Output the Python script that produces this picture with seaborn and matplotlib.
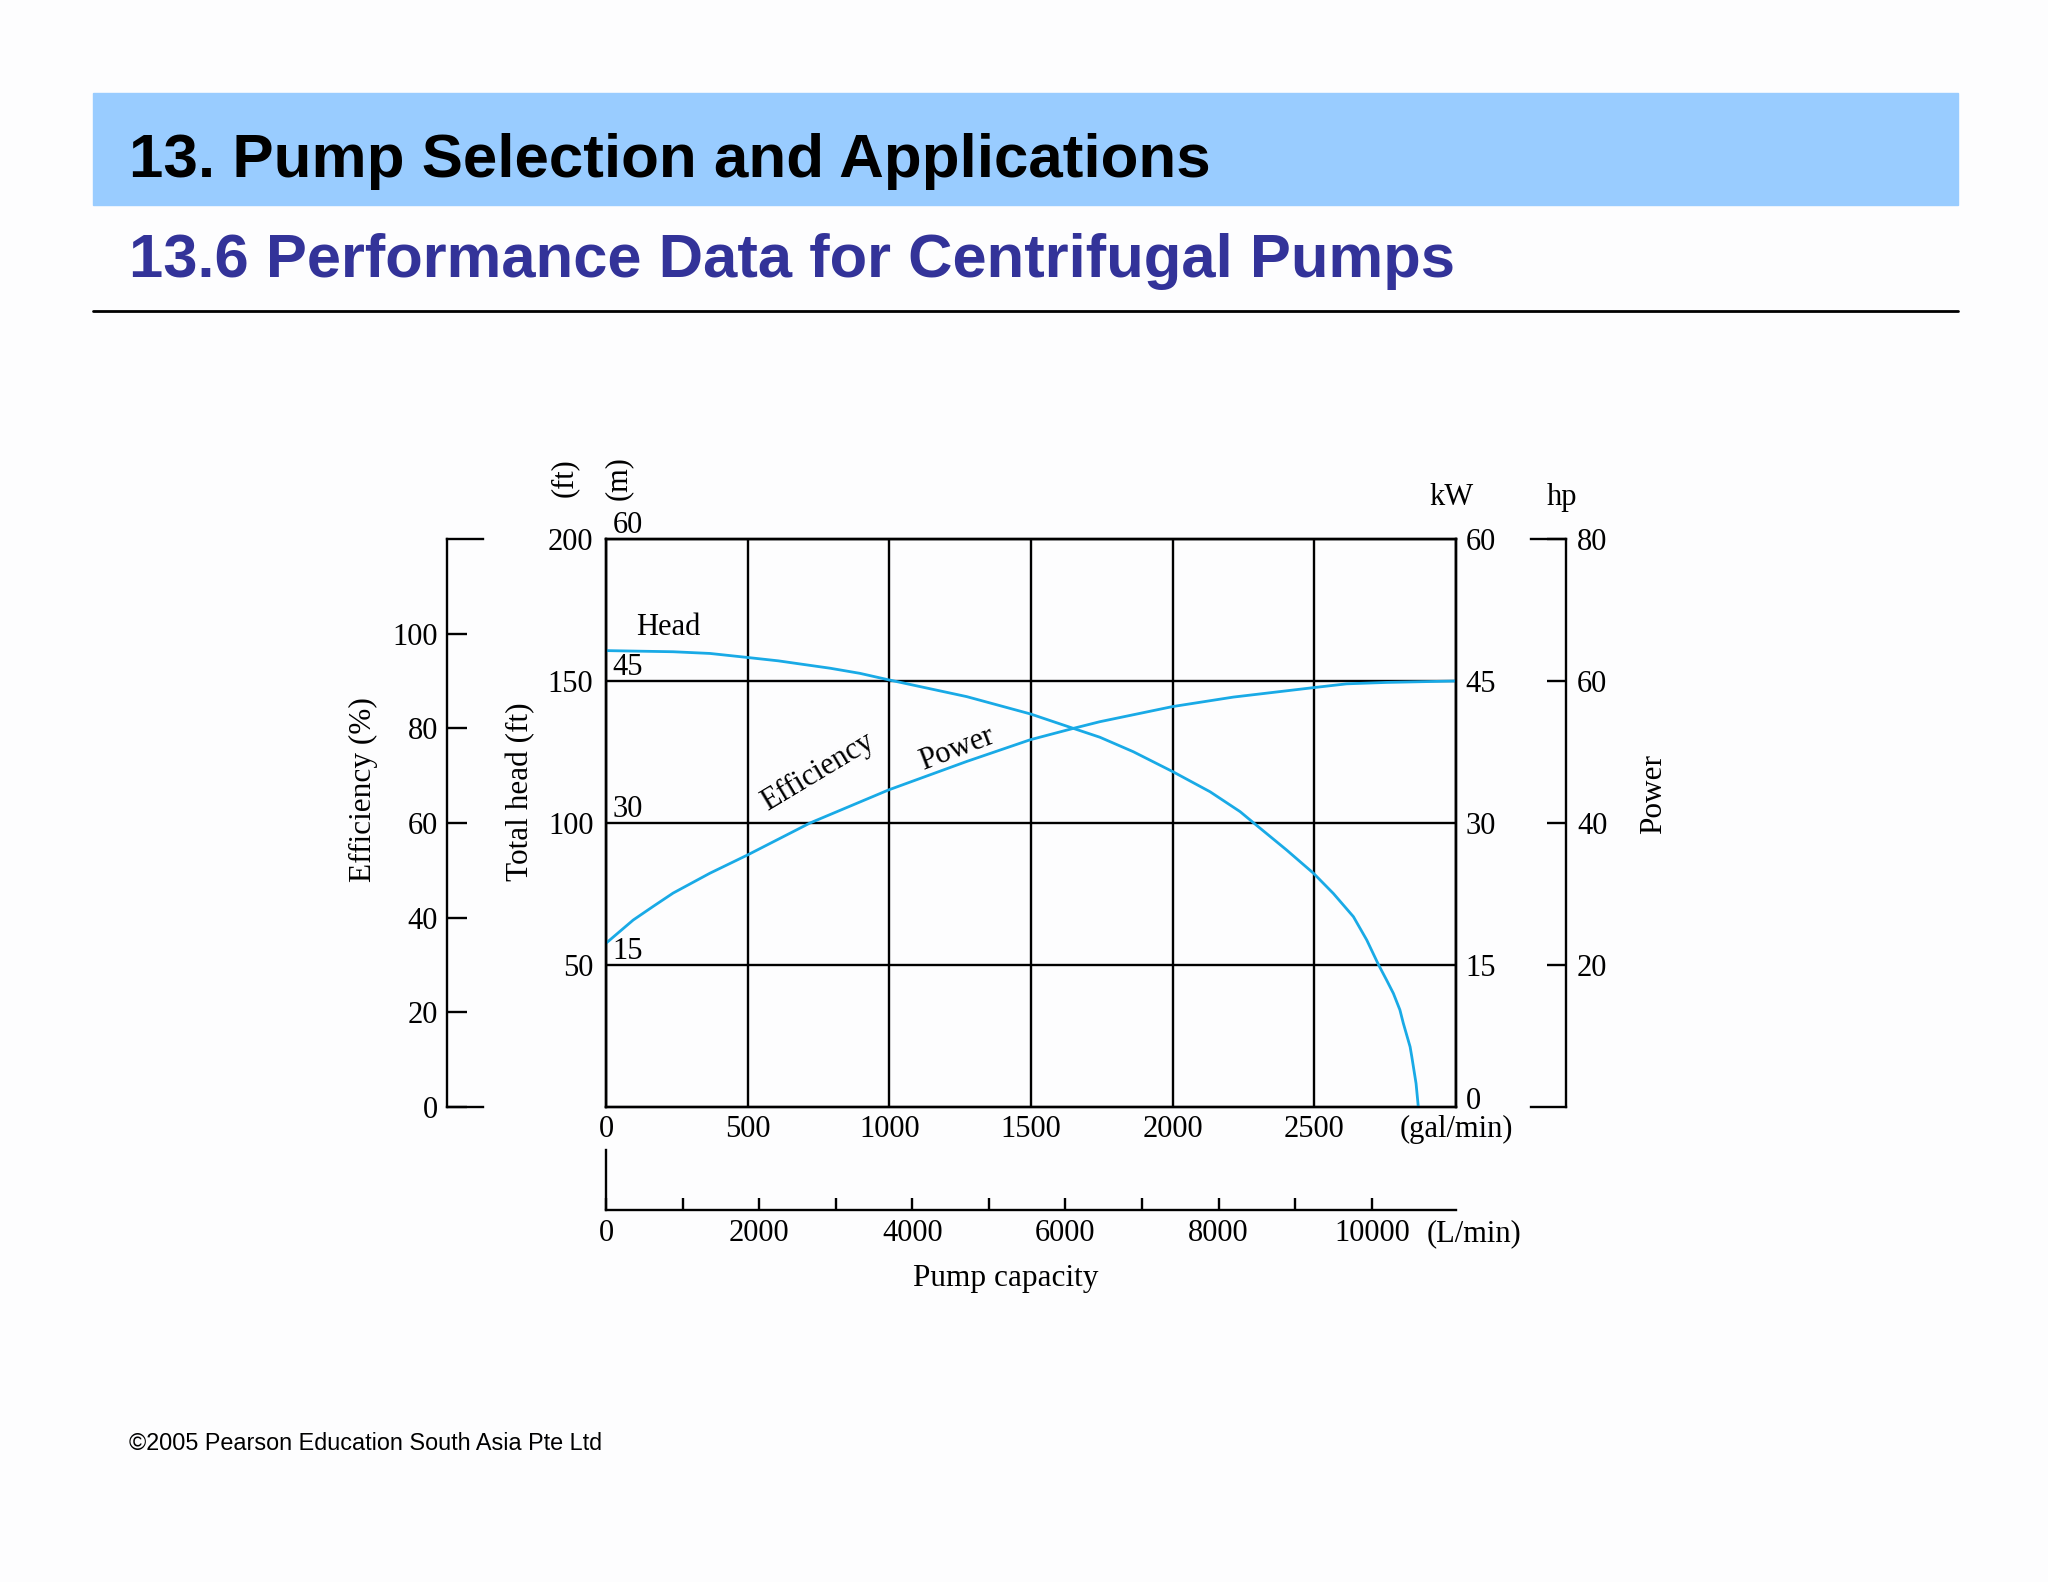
import numpy as np
import matplotlib
matplotlib.use("Agg")
import matplotlib.pyplot as plt
from matplotlib.patches import Rectangle
from matplotlib.lines import Line2D
import seaborn as sns

# Head curve (gal/min -> ft)
head_gpm = [0, 237, 367, 498, 608, 685, 791, 896, 998, 1273, 1498, 1650, 1743,
            1861, 2000, 2132, 2238, 2285, 2402, 2497, 2567, 2638, 2685, 2726, 2755,
            2779, 2802, 2814, 2838, 2844, 2859, 2867]
head_ft = [160.7, 160.3, 159.7, 158.3, 157.1, 156.0, 154.5, 152.7, 150.4, 144.5,
           138.4, 133.3, 130.2, 125.1, 118.1, 111.0, 104.0, 100.1, 90.5, 82.3, 75.2,
           67.0, 58.8, 50.2, 44.7, 40.0, 34.2, 29.5, 21.2, 17.7, 8.3, 0.0]

# Power / efficiency curve (gal/min -> kW)
power_gpm = [0, 96, 167, 237, 367, 498, 720, 998, 1273, 1498, 1650, 1743, 2000, 2214,
             2497, 2614, 2755, 3000]
power_kw = [17.3, 19.75, 21.2, 22.6, 24.7, 26.6, 30.0, 33.5, 36.5, 38.8, 40.0, 40.7,
            42.3, 43.3, 44.3, 44.7, 44.85, 45.0]

# axis scales
gpm_ticks = [0, 500, 1000, 1500, 2000, 2500, 3000]
gpm_labels = ["0", "500", "1000", "1500", "2000", "2500", "(gal/min)"]
ft_ticks = [50, 100, 150, 200]
m_ticks = [15, 30, 45, 60]
kw_ticks = [15, 30, 45, 60]
hp_ticks = [20, 40, 60, 80]
eff_ticks = [0, 20, 40, 60, 80, 100]
lpm_major = [0, 2000, 4000, 6000, 8000, 10000]
lpm_minor = [1000, 3000, 5000, 7000, 9000]
M_PER_FT = 0.3
L_PER_GAL = 3.70
GPM_MAX = 3000

sns.set_style("white")
plt.rcParams["font.family"] = ["Liberation Serif", "DejaVu Serif"]
plt.rcParams["axes.edgecolor"] = "black"
plt.rcParams["text.color"] = "black"
plt.rcParams["xtick.color"] = "black"
plt.rcParams["ytick.color"] = "black"

W, H = 2048, 1582
fig = plt.figure(figsize=(W / 100, H / 100), dpi=100, facecolor="#fdfdfe")

def fx(px):
    return px / W

def fy(py):
    return 1 - py / H

# slide header
fig.patches.append(Rectangle((fx(93), fy(205)), fx(1958 - 93), (205 - 93) / H,
                             transform=fig.transFigure, color="#99ccff", zorder=0))
fig.text(fx(129), fy(162), "13. Pump Selection and Applications", family="Liberation Sans",
         fontweight="bold", fontsize=44.6, va="center", ha="left", color="black")
fig.text(fx(129), fy(262), "13.6 Performance Data for Centrifugal Pumps", family="Liberation Sans",
         fontweight="bold", fontsize=44.3, va="center", ha="left", color="#333399")
fig.lines.append(Line2D([fx(93), fx(1958)], [fy(311), fy(311)], transform=fig.transFigure,
                        color="black", lw=2))
fig.text(fx(129), fy(1443), "\u00a92005 Pearson Education South Asia Pte Ltd",
         family="Liberation Sans", fontsize=16.8, va="center", ha="left")

blue = "#19aae6"
lw = 1.7
fs = 22
box = [fx(606), fy(1107), fx(850), 568 / H]

# main chart: head in ft
ax = fig.add_axes(box)
ax.set_facecolor("none")
sns.lineplot(x=head_gpm, y=head_ft, ax=ax, color=blue, lw=2.0, zorder=3)
ax.set_xlim(0, GPM_MAX)
ax.set_ylim(0, 200)
ax.set_xticks(gpm_ticks)
ax.set_xticklabels(gpm_labels)
ax.set_yticks(ft_ticks)
ax.grid(True, color="black", lw=lw)
ax.tick_params(axis="both", length=0, labelsize=fs)
ax.tick_params(axis="x", pad=6)
ax.tick_params(axis="y", pad=9)
for s in ax.spines.values():
    s.set_linewidth(lw)
for m in m_ticks:
    ax.annotate(str(m), xy=(0, m / M_PER_FT), xycoords=("axes fraction", "data"),
                xytext=(4.5, 4), textcoords="offset points", ha="left", va="baseline", fontsize=fs)

# kW on the right
ax_kw = ax.twinx()
sns.lineplot(x=power_gpm, y=power_kw, ax=ax_kw, color=blue, lw=2.0)
ax_kw.set_ylim(0, 60)
ax_kw.set_yticks(kw_ticks)
ax_kw.tick_params(axis="y", length=0, labelsize=fs, pad=7)
for s in ax_kw.spines.values():
    s.set_linewidth(lw)
# the kW zero sits just above the gal/min label
ax_kw.annotate("0", xy=(1, 0), xycoords=("axes fraction", "data"), xytext=(7, -1.5),
               textcoords="offset points", ha="left", va="baseline", fontsize=fs)

ax.text(219, 168.7, "Head", fontsize=fs, ha="center", va="center")
ax.text(749, 118.1, "Efficiency", fontsize=fs, ha="center", va="center", rotation=31)
ax.text(1238, 126.0, "Power", fontsize=fs, ha="center", va="center", rotation=21)

# efficiency scale on the far left
ax_eff = fig.add_axes([fx(447), box[1], fx(36), box[3]])
ax_eff.set_facecolor("none")
ax_eff.set_ylim(0, 120)
ax_eff.set_yticks(eff_ticks)
ax_eff.set_xticks([])
ax_eff.spines["right"].set_visible(False)
for s in ["left", "top", "bottom"]:
    ax_eff.spines[s].set_linewidth(lw)
ax_eff.tick_params(axis="y", direction="in", length=14.4, width=lw, labelsize=fs, pad=6.5, left=True)

# hp scale on the far right
ax_hp = fig.add_axes([fx(1531), box[1], fx(35), box[3]])
ax_hp.set_facecolor("none")
ax_hp.set_ylim(0, 80)
ax_hp.yaxis.tick_right()
ax_hp.set_yticks(hp_ticks)
ax_hp.set_xticks([])
ax_hp.spines["left"].set_visible(False)
for s in ["right", "top", "bottom"]:
    ax_hp.spines[s].set_linewidth(lw)
ax_hp.tick_params(axis="y", direction="in", length=13.7, width=lw, labelsize=fs, pad=8)

# L/min scale below
ax_L = fig.add_axes([box[0], fy(1209.5), box[2], 60 / H])
ax_L.set_facecolor("none")
ax_L.set_xlim(0, GPM_MAX * L_PER_GAL)
ax_L.set_ylim(0, 1)
ax_L.set_yticks([])
ax_L.set_xticks(lpm_major)
ax_L.set_xticks(lpm_minor, minor=True)
ax_L.spines["top"].set_visible(False)
ax_L.spines["right"].set_visible(False)
ax_L.spines["left"].set_linewidth(lw)
ax_L.spines["bottom"].set_linewidth(lw)
ax_L.tick_params(axis="x", which="both", direction="in", length=9, width=lw,
                 labelsize=fs, pad=7, bottom=True)
ax_L.annotate("(L/min)", xy=(GPM_MAX * L_PER_GAL, 0), xycoords="data",
              xytext=(13, -7), textcoords="offset points", ha="center", va="top", fontsize=fs)

# axis titles
fig.text(fx(363.5), fy(790), "Efficiency (%)", rotation=90, fontsize=22.5, ha="center", va="center")
fig.text(fx(521), fy(792), "Total head (ft)", rotation=90, fontsize=22.5, ha="center", va="center")
fig.text(fx(564), fy(478), "(ft)", rotation=90, fontsize=fs, ha="center", va="center")
fig.text(fx(618), fy(478), "(m)", rotation=90, fontsize=fs, ha="center", va="center")
fig.text(fx(1452), fy(505), "kW", fontsize=fs, ha="center", va="baseline")
fig.text(fx(1562), fy(505), "hp", fontsize=fs, ha="center", va="baseline")
fig.text(fx(1654), fy(794), "Power", rotation=90, fontsize=22.5, ha="center", va="center")
fig.text(fx(1005.6), fy(1278.6), "Pump capacity", fontsize=22.5, ha="center", va="center")

plt.savefig("out.png", dpi=100, facecolor=fig.get_facecolor())
